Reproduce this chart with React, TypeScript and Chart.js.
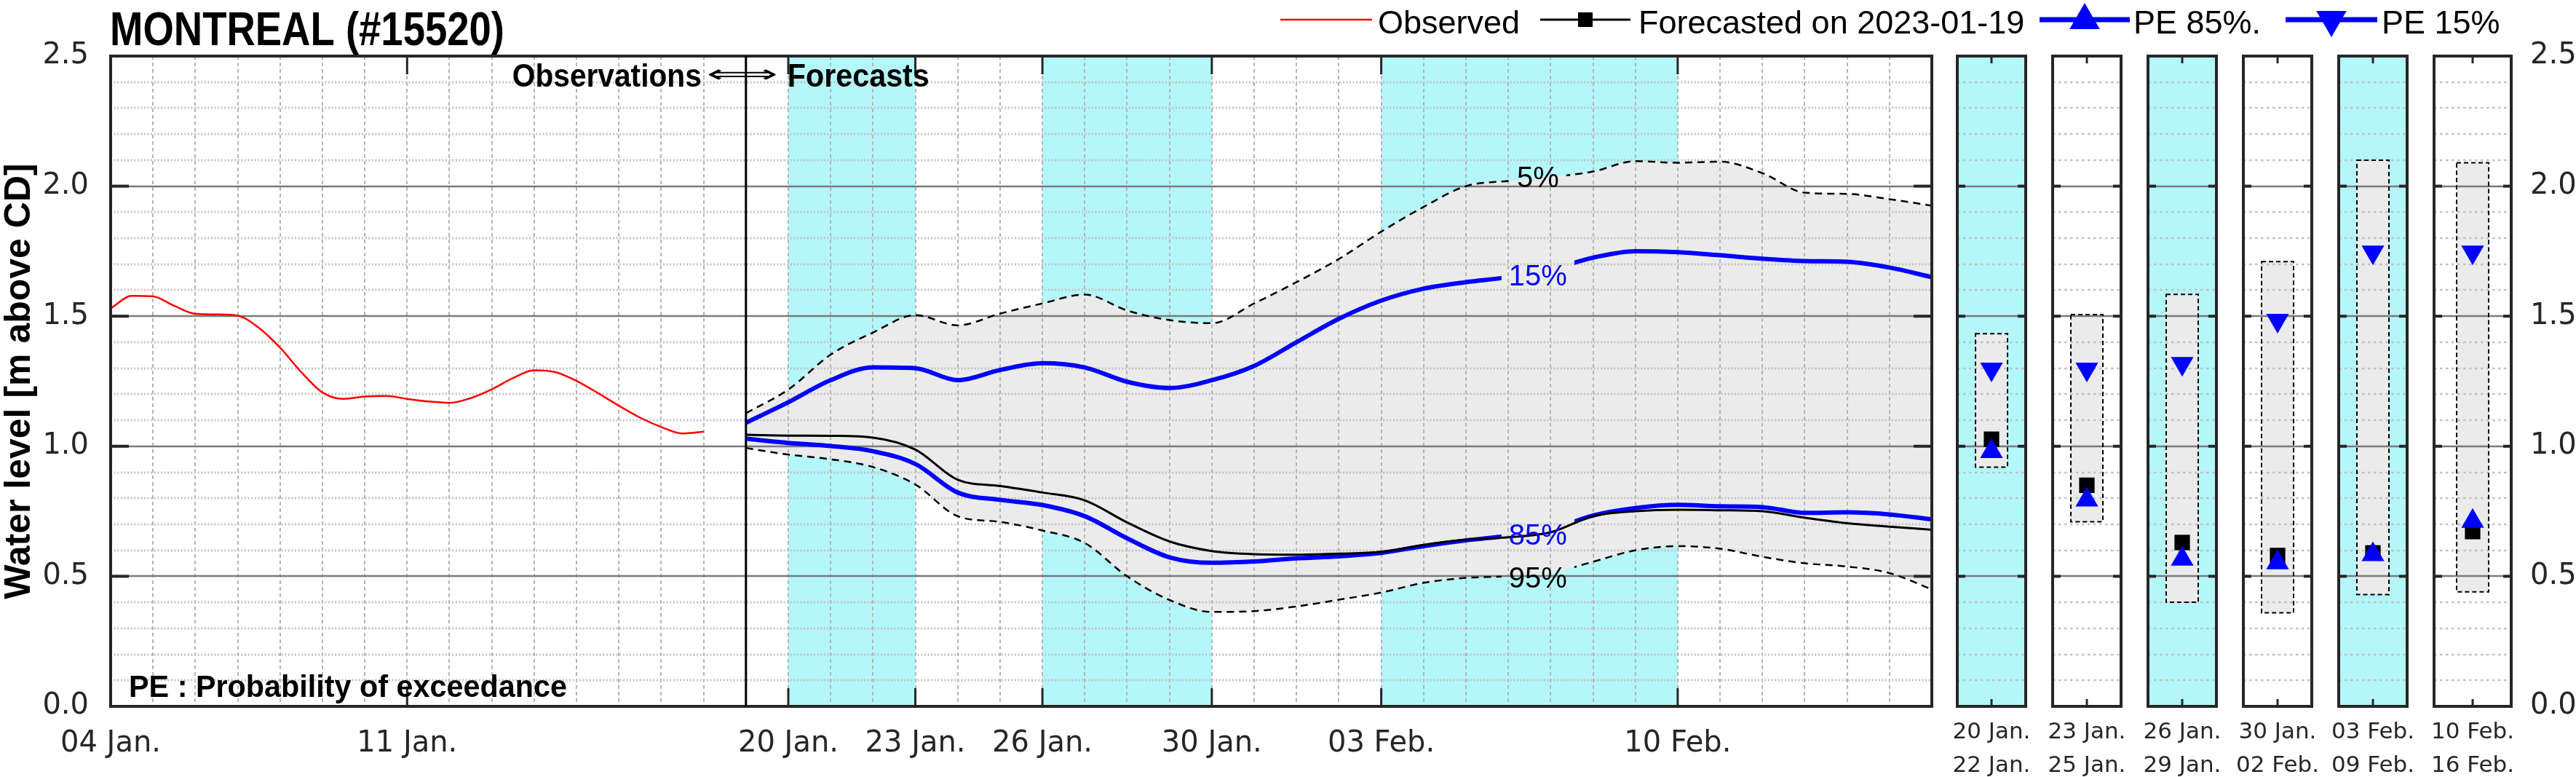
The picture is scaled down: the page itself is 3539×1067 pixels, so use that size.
import React, { useEffect, useRef } from 'react';
import { Chart, registerables } from 'chart.js';
Chart.register(...registerables);

const W = 3539;
const H = 1067;

// ---------------- DATA ----------------
// x values are days since 04 Jan.
const obsDays = [0, 0.5, 1, 1.5, 2, 2.5, 3, 3.5, 4, 4.5, 5, 5.5, 6, 6.5, 7, 7.5, 8, 8.5, 9, 9.5, 10, 10.5, 11, 11.5, 12, 12.5, 13, 13.5, 14];
const obsLevels = [1.53, 1.578, 1.576, 1.54, 1.509, 1.507, 1.502, 1.455, 1.379, 1.285, 1.207, 1.182, 1.191, 1.193, 1.182, 1.172, 1.167, 1.185, 1.219, 1.262, 1.292, 1.285, 1.251, 1.205, 1.156, 1.11, 1.074, 1.049, 1.056];

const fcDays = [15, 16, 17, 18, 19, 20, 21, 22, 23, 24, 25, 26, 27, 28, 29, 30, 31, 32, 33, 34, 35, 36, 37, 38, 39, 40, 41, 42, 43];
const fcP05 = [1.127, 1.218, 1.352, 1.437, 1.504, 1.465, 1.51, 1.549, 1.583, 1.522, 1.485, 1.473, 1.549, 1.631, 1.72, 1.825, 1.92, 2.0, 2.02, 2.035, 2.056, 2.096, 2.09, 2.094, 2.05, 1.975, 1.97, 1.95, 1.925];
const fcP15 = [1.09, 1.169, 1.254, 1.303, 1.3, 1.254, 1.293, 1.319, 1.303, 1.248, 1.224, 1.254, 1.309, 1.4, 1.49, 1.56, 1.606, 1.631, 1.65, 1.68, 1.725, 1.75, 1.746, 1.734, 1.721, 1.712, 1.709, 1.687, 1.65];
const fcMedian = [1.044, 1.041, 1.04, 1.033, 0.987, 0.871, 0.847, 0.822, 0.792, 0.707, 0.634, 0.597, 0.585, 0.583, 0.587, 0.594, 0.621, 0.641, 0.65, 0.669, 0.731, 0.75, 0.756, 0.754, 0.75, 0.725, 0.704, 0.691, 0.679];
const fcP85 = [1.029, 1.013, 1.001, 0.981, 0.932, 0.822, 0.794, 0.774, 0.731, 0.646, 0.573, 0.552, 0.557, 0.569, 0.577, 0.59, 0.616, 0.638, 0.656, 0.68, 0.734, 0.7625, 0.775, 0.769, 0.766, 0.744, 0.746, 0.738, 0.719];
const fcP95 = [0.993, 0.968, 0.95, 0.92, 0.853, 0.731, 0.709, 0.676, 0.628, 0.5, 0.409, 0.363, 0.366, 0.384, 0.41, 0.4375, 0.475, 0.494, 0.5, 0.5125, 0.556, 0.6, 0.616, 0.606, 0.575, 0.55, 0.5375, 0.5125, 0.45];

const xMinDay = 0;
const xMaxDay = 43;
const forecastStartDay = 15;
const majorTickDays = [0, 7, 16, 19, 22, 26, 30, 37];
const majorTickLabels = ['04 Jan.', '11 Jan.', '20 Jan.', '23 Jan.', '26 Jan.', '30 Jan.', '03 Feb.', '10 Feb.'];
const shadedStart = [16, 22, 30];
const shadedEnd = [19, 26, 37];
const yTicks = [0, 0.5, 1.0, 1.5, 2.0, 2.5];

const pctLabels = ['5%', '15%', '85%', '95%'];
const pctLabelDay = 33.7;
const pctLabelLevels = [2.03, 1.652, 0.655, 0.489];

const panelStart = ['20 Jan.', '23 Jan.', '26 Jan.', '30 Jan.', '03 Feb.', '10 Feb.'];
const panelEnd = ['22 Jan.', '25 Jan.', '29 Jan.', '02 Feb.', '09 Feb.', '16 Feb.'];
const panelShaded = [true, false, true, false, true, false];
const panelP05 = [1.433, 1.506, 1.584, 1.71, 2.1, 2.09];
const panelP95 = [0.92, 0.71, 0.4, 0.36, 0.43, 0.44];
const panelMedian = [1.027, 0.85, 0.63, 0.58, 0.59, 0.672];
const panelP85 = [0.98, 0.794, 0.566, 0.552, 0.584, 0.712];
const panelP15 = [1.296, 1.296, 1.318, 1.484, 1.746, 1.746];

// ---------------- STYLE ----------------
const CYAN = '#b3f7fa';
const BAND = '#ebebeb';
const FRAME = '#262626';
const BLUE = '#0000ff';
const SANS = "'Liberation Sans', Arial, sans-serif";
const DEJAVU = "'DejaVu Sans', sans-serif";

const PLOT_LEFT = 152;
const PLOT_RIGHT = 2654;
const PLOT_TOP = 77;
const PLOT_BOTTOM = 970;
const PANEL_LEFT0 = 2683;
const PANEL_STEP = 131;
const PANEL_W = 112;
const PANEL_PAD = 12;

const toXY = (xs: number[], ys: number[]) => xs.map((x, i) => ({ x, y: ys[i] }));

function triangle(ctx: CanvasRenderingContext2D, cx: number, cy: number, r: number, up: boolean) {
  const s = up ? 1 : -1;
  ctx.beginPath();
  ctx.moveTo(cx, cy - s * r);
  ctx.lineTo(cx + r * 0.866, cy + s * r * 0.5);
  ctx.lineTo(cx - r * 0.866, cy + s * r * 0.5);
  ctx.closePath();
  ctx.fill();
}

function line(ctx: CanvasRenderingContext2D, x0: number, y0: number, x1: number, y1: number) {
  ctx.beginPath();
  ctx.moveTo(x0, y0);
  ctx.lineTo(x1, y1);
  ctx.stroke();
}

// draw text scaled horizontally to a given width
function fitText(ctx: CanvasRenderingContext2D, text: string, x: number, y: number, width: number, allowStretch = false) {
  const w = ctx.measureText(text).width;
  const k = allowStretch ? width / w : Math.min(1, width / w);
  ctx.save();
  ctx.translate(x, y);
  ctx.scale(k, 1);
  ctx.fillText(text, 0, 0);
  ctx.restore();
}

const LABEL_FONT = `40px ${SANS}`;
const labelOfDataset: Record<number, number> = { 1: 0, 5: 1, 4: 2, 2: 3 };

function labelRect(chart: any, li: number) {
  const { ctx, scales } = chart;
  ctx.save();
  ctx.font = LABEL_FONT;
  const w = ctx.measureText(pctLabels[li]).width;
  ctx.restore();
  const px = scales.x.getPixelForValue(pctLabelDay);
  const py = scales.y.getPixelForValue(pctLabelLevels[li]);
  return { x: px - w / 2 - 10, y: py - 24, w: w + 20, h: 48, cx: px, cy: py };
}

const mainPlugin = {
  id: 'mainDecor',
  beforeDraw(chart: any) {
    const { ctx, chartArea: a, scales } = chart;
    ctx.save();
    ctx.fillStyle = CYAN;
    shadedStart.forEach((d0, i) => {
      const x0 = scales.x.getPixelForValue(d0);
      const x1 = scales.x.getPixelForValue(shadedEnd[i]);
      ctx.fillRect(x0, a.top, x1 - x0, a.bottom - a.top);
    });
    ctx.restore();
  },
  beforeDatasetsDraw(chart: any) {
    const { ctx, chartArea: a, scales } = chart;
    ctx.save();
    ctx.beginPath();
    ctx.rect(a.left, a.top, a.right - a.left, a.bottom - a.top);
    ctx.clip();
    ctx.strokeStyle = '#b5b5b5';
    ctx.lineWidth = 2;
    ctx.setLineDash([5, 4]);
    for (let d = xMinDay + 1; d < xMaxDay; d++) {
      const px = Math.round(scales.x.getPixelForValue(d));
      line(ctx, px, a.top, px, a.bottom);
    }
    ctx.setLineDash([2, 2.6]);
    ctx.lineWidth = 3;
    ctx.strokeStyle = '#c2c2c2';
    for (let k = 1; k < 25; k++) {
      if (k % 5 === 0) continue;
      const py = Math.round(scales.y.getPixelForValue(k / 10));
      line(ctx, a.left, py, a.right, py);
    }
    ctx.setLineDash([]);
    ctx.strokeStyle = '#7a7a7a';
    ctx.lineWidth = 2.5;
    yTicks.slice(1, -1).forEach((v) => {
      const py = Math.round(scales.y.getPixelForValue(v));
      line(ctx, a.left, py, a.right, py);
    });
    ctx.restore();
  },
  beforeDatasetDraw(chart: any, args: any) {
    const li = labelOfDataset[args.index];
    if (li === undefined) return;
    const { ctx } = chart;
    const r = labelRect(chart, li);
    ctx.save();
    ctx.beginPath();
    ctx.rect(0, 0, chart.width, chart.height);
    ctx.rect(r.x, r.y, r.w, r.h);
    ctx.clip('evenodd');
  },
  afterDatasetDraw(chart: any, args: any) {
    if (labelOfDataset[args.index] === undefined) return;
    chart.ctx.restore();
  },
  afterDraw(chart: any) {
    const { ctx, chartArea: a, scales } = chart;
    ctx.save();
    // percentile labels
    ctx.font = LABEL_FONT;
    ctx.textAlign = 'center';
    ctx.textBaseline = 'middle';
    pctLabels.forEach((t, li) => {
      const r = labelRect(chart, li);
      ctx.fillStyle = li === 1 || li === 2 ? BLUE : '#000';
      ctx.fillText(t, r.cx, r.cy + 1);
    });
    // frame
    ctx.strokeStyle = FRAME;
    ctx.lineWidth = 4;
    ctx.strokeRect(a.left, a.top, a.right - a.left, a.bottom - a.top);
    // separation line
    const sx = scales.x.getPixelForValue(forecastStartDay);
    ctx.strokeStyle = '#000';
    ctx.lineWidth = 3;
    line(ctx, sx, a.top, sx, a.bottom);
    // major x ticks
    ctx.strokeStyle = FRAME;
    ctx.lineWidth = 3;
    majorTickDays.forEach((d) => {
      if (d === xMinDay) return;
      const px = scales.x.getPixelForValue(d);
      line(ctx, px, a.top, px, a.top + 25);
      line(ctx, px, a.bottom, px, a.bottom - 25);
    });
    // y ticks
    ctx.lineWidth = 4;
    yTicks.slice(1, -1).forEach((v) => {
      const py = scales.y.getPixelForValue(v);
      line(ctx, a.left, py, a.left + 25, py);
      line(ctx, a.right - 25, py, a.right, py);
    });
    // title
    ctx.fillStyle = '#000';
    ctx.textAlign = 'left';
    ctx.textBaseline = 'alphabetic';
    ctx.font = `bold 64px ${SANS}`;
    fitText(ctx, 'MONTREAL (#15520)', 151, 62, 542);
    // observations / forecasts
    ctx.font = `bold 44px ${SANS}`;
    fitText(ctx, 'Observations', sx - 321, 119, 260);
    fitText(ctx, 'Forecasts', sx + 57, 119, 195);
    ctx.save();
    ctx.font = `34px ${DEJAVU}`;
    ctx.textBaseline = 'middle';
    fitText(ctx, '\u27FA', sx - 54, 104, 98, true);
    ctx.restore();
    // PE note
    ctx.font = `bold 42px ${SANS}`;
    fitText(ctx, 'PE : Probability of exceedance', 177, 957, 602);
    // y title
    ctx.save();
    ctx.translate(27, (a.top + a.bottom) / 2);
    ctx.rotate(-Math.PI / 2);
    ctx.textAlign = 'center';
    ctx.textBaseline = 'middle';
    ctx.font = `bold 50px ${SANS}`;
    ctx.fillText('Water level [m above CD]', 0, 0);
    ctx.restore();
    // legend
    const ly = 27;
    ctx.font = `45px ${SANS}`;
    ctx.textAlign = 'left';
    ctx.textBaseline = 'alphabetic';
    ctx.strokeStyle = '#ff0000';
    ctx.lineWidth = 2.5;
    line(ctx, 1759, ly, 1885, ly);
    ctx.fillStyle = '#000';
    ctx.fillText('Observed', 1893, 46);
    ctx.strokeStyle = '#000';
    ctx.lineWidth = 3;
    line(ctx, 2116, ly, 2240, ly);
    ctx.fillRect(2168, ly - 10, 20, 20);
    ctx.fillText('Forecasted on 2023-01-19', 2251, 46);
    ctx.strokeStyle = BLUE;
    ctx.fillStyle = BLUE;
    ctx.lineWidth = 7;
    line(ctx, 2802, ly, 2926, ly);
    triangle(ctx, 2864, ly + 1, 24, true);
    line(ctx, 3140, ly, 3266, ly);
    triangle(ctx, 3203, ly, 24, false);
    ctx.fillStyle = '#000';
    ctx.fillText('PE 85%.', 2931, 46);
    ctx.fillText('PE 15%', 3272, 46);
    ctx.restore();
  },
};

function mainConfig(): any {
  const common = { pointRadius: 0, cubicInterpolationMode: 'monotone', fill: false };
  return {
    type: 'line',
    data: {
      datasets: [
        { label: 'Observed', data: toXY(obsDays, obsLevels), borderColor: '#ff0000', borderWidth: 2.5, ...common },
        { label: '5%', data: toXY(fcDays, fcP05), borderColor: '#000', borderWidth: 2.5, borderDash: [10, 7], ...common },
        { label: '95%', data: toXY(fcDays, fcP95), borderColor: '#000', borderWidth: 2.5, borderDash: [10, 7], ...common, fill: 1, backgroundColor: BAND },
        { label: 'Forecasted', data: toXY(fcDays, fcMedian), borderColor: '#000', borderWidth: 3, ...common },
        { label: 'PE 85%', data: toXY(fcDays, fcP85), borderColor: BLUE, borderWidth: 6, ...common },
        { label: 'PE 15%', data: toXY(fcDays, fcP15), borderColor: BLUE, borderWidth: 6, ...common },
      ],
    },
    options: {
      responsive: false,
      animation: false,
      devicePixelRatio: 1,
      layout: { padding: { left: 0, top: PLOT_TOP, right: W - PLOT_RIGHT, bottom: 0 } },
      plugins: {
        legend: { display: false },
        tooltip: { enabled: false },
        title: { display: false },
        filler: { drawTime: 'beforeDatasetsDraw', propagate: false },
      },
      scales: {
        x: {
          type: 'linear',
          min: xMinDay,
          max: xMaxDay,
          grid: { display: false },
          border: { display: false },
          afterBuildTicks: (s: any) => {
            s.ticks = majorTickDays.map((v) => ({ value: v }));
          },
          afterFit: (s: any) => {
            s.height = H - PLOT_BOTTOM;
            s.paddingLeft = 0;
            s.paddingRight = 0;
          },
          ticks: {
            autoSkip: false,
            maxRotation: 0,
            minRotation: 0,
            padding: 20,
            color: FRAME,
            font: { family: DEJAVU, size: 40 },
            callback: (_v: any, i: number) => majorTickLabels[i],
          },
        },
        y: {
          type: 'linear',
          min: 0,
          max: 2.5,
          grid: { display: false },
          border: { display: false },
          afterFit: (s: any) => {
            s.width = PLOT_LEFT;
          },
          ticks: {
            stepSize: 0.5,
            padding: 22,
            color: FRAME,
            font: { family: DEJAVU, size: 40 },
            callback: (v: any) => Number(v).toFixed(1),
          },
        },
      },
    },
    plugins: [mainPlugin],
  };
}

const panelPlugin = {
  id: 'panelDecor',
  beforeDraw(chart: any, _args: any, opts: any) {
    const { ctx, chartArea: a } = chart;
    if (opts.shaded) {
      ctx.save();
      ctx.fillStyle = CYAN;
      ctx.fillRect(a.left, a.top, a.right - a.left, a.bottom - a.top);
      ctx.restore();
    }
  },
  afterDatasetDraw(chart: any, args: any) {
    if (args.index !== 3) return;
    const { ctx, chartArea: a, scales } = chart;
    ctx.save();
    ctx.strokeStyle = '#c2c2c2';
    ctx.lineWidth = 2.5;
    ctx.setLineDash([3.5, 4.5]);
    for (let k = 1; k < 25; k++) {
      if (k % 5 === 0) continue;
      const py = Math.round(scales.y.getPixelForValue(k / 10));
      line(ctx, a.left, py, a.right, py);
    }
    ctx.setLineDash([]);
    ctx.strokeStyle = '#7a7a7a';
    ctx.lineWidth = 2.5;
    yTicks.slice(1, -1).forEach((v) => {
      const py = Math.round(scales.y.getPixelForValue(v));
      line(ctx, a.left, py, a.right, py);
    });
    const el = chart.getDatasetMeta(3).data[0];
    const p = el.getProps(['x', 'y', 'base', 'width'], true);
    ctx.strokeStyle = '#000';
    ctx.lineWidth = 2;
    ctx.setLineDash([6, 4]);
    ctx.strokeRect(p.x - p.width / 2, Math.min(p.y, p.base), p.width, Math.abs(p.base - p.y));
    ctx.restore();
  },
  afterDraw(chart: any) {
    const { ctx, chartArea: a, scales } = chart;
    ctx.save();
    ctx.strokeStyle = FRAME;
    ctx.lineWidth = 4;
    ctx.strokeRect(a.left, a.top, a.right - a.left, a.bottom - a.top);
    yTicks.slice(1, -1).forEach((v) => {
      const py = scales.y.getPixelForValue(v);
      line(ctx, a.left, py, a.left + 11, py);
      line(ctx, a.right - 11, py, a.right, py);
    });
    ctx.lineWidth = 3;
    const cx = (a.left + a.right) / 2;
    line(ctx, cx, a.top, cx, a.top + 10);
    line(ctx, cx, a.bottom, cx, a.bottom - 10);
    ctx.restore();
  },
};

function panelGeom(i: number) {
  const left = PANEL_LEFT0 + i * PANEL_STEP;
  const last = i === panelStart.length - 1;
  const cLeft = left - PANEL_PAD;
  const cW = last ? W - cLeft : PANEL_W + 2 * PANEL_PAD;
  return { cLeft, cW, last };
}

function panelConfig(i: number): any {
  const g = panelGeom(i);
  return {
    type: 'bar',
    data: {
      labels: [[panelStart[i], panelEnd[i]]],
      datasets: [
        { type: 'line', label: 'PE 85%', data: [panelP85[i]], showLine: false, pointStyle: 'triangle', pointRadius: 18, pointBackgroundColor: BLUE, pointBorderWidth: 0, borderColor: BLUE },
        { type: 'line', label: 'PE 15%', data: [panelP15[i]], showLine: false, pointStyle: 'triangle', pointRotation: 180, pointRadius: 18, pointBackgroundColor: BLUE, pointBorderWidth: 0, borderColor: BLUE },
        { type: 'line', label: 'Forecasted', data: [panelMedian[i]], showLine: false, pointStyle: 'rect', pointRadius: 15, pointBackgroundColor: '#000', pointBorderWidth: 0, borderColor: '#000' },
        { type: 'bar', label: '5-95%', data: [[panelP95[i], panelP05[i]]], backgroundColor: BAND, borderWidth: 0, barThickness: 44 },
      ],
    },
    options: {
      responsive: false,
      animation: false,
      devicePixelRatio: 1,
      layout: { padding: { left: PANEL_PAD, top: PLOT_TOP, right: g.last ? 0 : PANEL_PAD, bottom: 0 } },
      plugins: { legend: { display: false }, tooltip: { enabled: false }, panelDecor: { shaded: panelShaded[i] } },
      scales: {
        x: {
          type: 'category',
          offset: true,
          grid: { display: false },
          border: { display: false },
          afterFit: (s: any) => {
            s.height = H - PLOT_BOTTOM;
            s.paddingLeft = 0;
            s.paddingRight = 0;
          },
          ticks: {
            autoSkip: false,
            maxRotation: 0,
            minRotation: 0,
            padding: 5,
            color: FRAME,
            font: { family: DEJAVU, size: 31, lineHeight: 1.48 },
          },
        },
        y: {
          type: 'linear',
          min: 0,
          max: 2.5,
          display: g.last,
          position: 'right',
          grid: { display: false },
          border: { display: false },
          afterFit: (s: any) => {
            s.width = g.cW - PANEL_PAD - PANEL_W;
          },
          ticks: {
            stepSize: 0.5,
            padding: 18,
            color: FRAME,
            font: { family: DEJAVU, size: 40 },
            callback: (v: any) => Number(v).toFixed(1),
          },
        },
      },
    },
    plugins: [panelPlugin],
  };
}

export default function App() {
  const mainRef = useRef<HTMLCanvasElement | null>(null);
  const panelRefs = useRef<(HTMLCanvasElement | null)[]>([]);

  useEffect(() => {
    const charts: Chart[] = [];
    if (mainRef.current) charts.push(new Chart(mainRef.current, mainConfig()));
    panelRefs.current.forEach((c, i) => {
      if (c) charts.push(new Chart(c, panelConfig(i)));
    });
    return () => charts.forEach((c) => c.destroy());
  }, []);

  return (
    <div style={{ position: 'fixed', left: 0, top: 0, width: W, height: H, background: '#ffffff', overflow: 'hidden' }}>
      <canvas ref={mainRef} width={W} height={H} style={{ position: 'absolute', left: 0, top: 0, width: W, height: H }} />
      {panelStart.map((_, i) => {
        const g = panelGeom(i);
        return (
          <canvas
            key={i}
            ref={(el) => {
              panelRefs.current[i] = el;
            }}
            width={g.cW}
            height={H}
            style={{ position: 'absolute', left: g.cLeft, top: 0, width: g.cW, height: H }}
          />
        );
      })}
    </div>
  );
}
